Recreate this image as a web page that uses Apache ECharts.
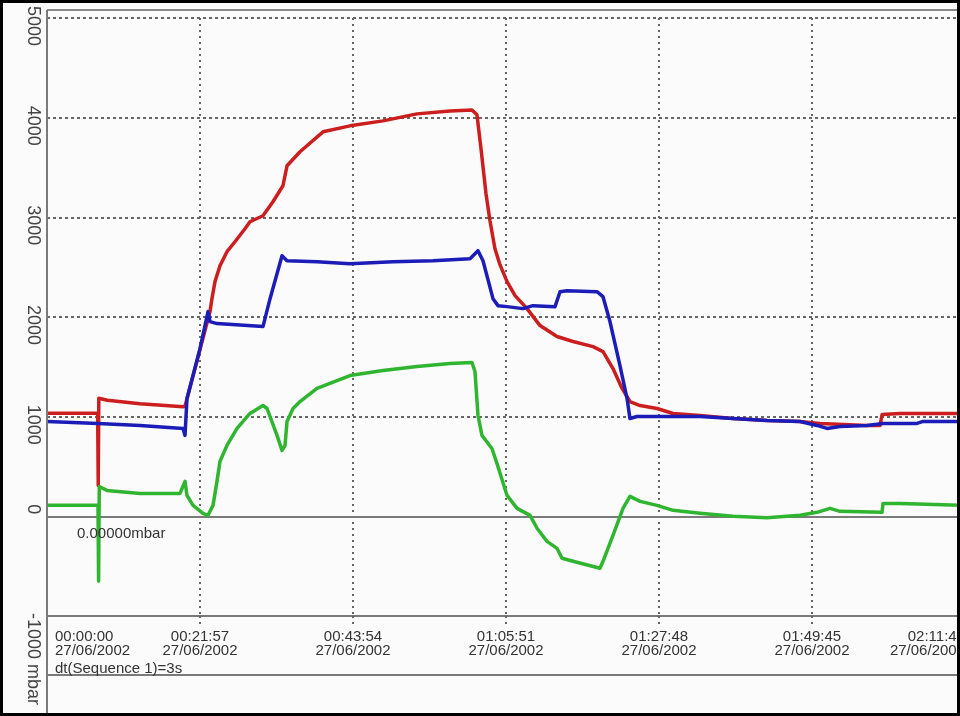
<!DOCTYPE html>
<html>
<head>
<meta charset="utf-8">
<script src="https://cdn.jsdelivr.net/npm/echarts@6/dist/echarts.min.js"></script>
<style>
  html, body { margin: 0; padding: 0; background: #fafbfa; }
  #chart { width: 960px; height: 716px; }
</style>
</head>
<body>
<div id="chart"></div>
<script>
// time in seconds from 00:00:00, pressure in mbar
const dateLabel = '27/06/2002'
const tickStep = 1317 // 00:21:57
const timeMax = 7902 // 02:11:42
const yTicks = [-1000, 0, 1000, 2000, 3000, 4000, 5000]

const redPts = [
	[0, 1035], [436, 1035], [441, 310], [446, 1185], [520, 1165], [800, 1130], [1170, 1100],
	[1188, 1105], [1403, 2054], [1420, 2184], [1446, 2355], [1489, 2515], [1549, 2655],
	[1618, 2755], [1704, 2886], [1747, 2956], [1859, 3016], [1945, 3156], [2031, 3317],
	[2066, 3517], [2178, 3658], [2376, 3858], [2608, 3918], [2892, 3968], [3185, 4038],
	[3469, 4068], [3658, 4078], [3701, 4030], [3736, 3687], [3779, 3236], [3813, 2966],
	[3856, 2685], [3899, 2525], [3960, 2355], [4029, 2214], [4132, 2084], [4244, 1914],
	[4390, 1804], [4528, 1754], [4700, 1703], [4786, 1653], [4872, 1483], [4950, 1283],
	[5018, 1152], [5105, 1112], [5251, 1082], [5389, 1032], [5621, 1012], [5905, 982],
	[6198, 962], [6482, 952], [6654, 932], [7059, 912], [7171, 912], [7188, 1022],
	[7343, 1032], [7902, 1032]
]

const bluePts = [
	[0, 952], [439, 932], [801, 912], [1171, 882], [1188, 812], [1205, 1182], [1257, 1413],
	[1317, 1683], [1360, 1914], [1386, 2054], [1403, 1954], [1463, 1934], [1859, 1904],
	[1920, 2184], [2023, 2615], [2031, 2635], [2066, 2565], [2324, 2555], [2608, 2535],
	[2978, 2555], [3323, 2565], [3641, 2585], [3710, 2665], [3753, 2565], [3839, 2184],
	[3882, 2114], [3960, 2104], [4097, 2084], [4183, 2114], [4373, 2104], [4416, 2254],
	[4476, 2264], [4734, 2254], [4786, 2204], [4846, 1954], [4932, 1513], [4993, 1182],
	[5018, 982], [5079, 1002], [5337, 1002], [5621, 1002], [5905, 982], [6198, 962],
	[6482, 952], [6628, 912], [6714, 882], [6826, 902], [7059, 912], [7196, 932],
	[7489, 932], [7541, 952], [7902, 952]
]

const greenPts = [
	[0, 110], [439, 110], [444, -650], [450, 300], [516, 260], [801, 230], [1145, 230],
	[1188, 351], [1205, 210], [1257, 110], [1343, 30], [1386, 10], [1429, 110], [1463, 351],
	[1489, 551], [1549, 711], [1636, 882], [1747, 1032], [1859, 1112], [1894, 1082],
	[1980, 812], [2023, 661], [2049, 711], [2066, 952], [2118, 1082], [2178, 1152],
	[2324, 1283], [2608, 1413], [2892, 1463], [3185, 1503], [3469, 1533], [3658, 1543],
	[3684, 1453], [3710, 1012], [3744, 812], [3830, 681], [3873, 531], [3960, 210],
	[4046, 80], [4158, 10], [4218, -120], [4304, -251], [4390, -321], [4433, -421],
	[4528, -451], [4760, -521], [4786, -451], [4872, -190], [4958, 80], [5018, 200],
	[5105, 150], [5251, 110], [5389, 60], [5621, 30], [5905, 0], [6198, -15], [6482, 10],
	[6628, 40], [6740, 80], [6826, 50], [7188, 40], [7196, 130], [7343, 130], [7902, 110]
]

const font = "'Liberation Sans', Arial, sans-serif"
const textColor = '#333'
const gridColor = '#666'

function hms(t) {
	const pad = n => String(n).padStart(2, '0')
	return pad(Math.floor(t / 3600)) + ':' + pad(Math.floor(t / 60) % 60) + ':' + pad(t % 60)
}

const chart = echarts.init(document.getElementById('chart'))

const option = {
	animation: false,
	backgroundColor: '#fafbfa',
	grid: {
		left: 47,
		right: -5,
		top: 18,
		bottom: 100,
		outerBoundsMode: 'none'
	},
	xAxis: [
		{
			type: 'value',
			min: 0,
			max: timeMax,
			interval: tickStep,
			axisLine: {
				onZero: false,
				lineStyle: { color: '#7a7a7a', width: 2 }
			},
			axisTick: {
				show: true,
				length: 9,
				lineStyle: { color: gridColor, width: 2, type: [2, 4] }
			},
			splitLine: {
				show: true,
				lineStyle: { color: gridColor, width: 2, type: [2, 4] }
			},
			axisLabel: {
				interval: 0,
				showMinLabel: true,
				showMaxLabel: true,
				alignMinLabel: 'left',
				alignMaxLabel: 'right',
				margin: 14,
				color: textColor,
				fontFamily: font,
				fontSize: 15,
				lineHeight: 14,
				formatter: function (value) {
					if (value === 0) {
						return '{f|' + hms(value) + '}\n{f|' + dateLabel + '}'
					}
					return hms(value) + '\n' + dateLabel
				},
				rich: {
					f: {
						color: textColor,
						fontFamily: font,
						fontSize: 15,
						lineHeight: 14,
						padding: [0, 0, 0, 8]
					}
				}
			}
		},
		{
			// zero line
			type: 'value',
			min: 0,
			max: timeMax,
			position: 'bottom',
			axisLine: {
				onZero: true,
				onZeroAxisIndex: 0,
				lineStyle: { color: '#7a7a7a', width: 2 }
			},
			axisTick: { show: false },
			axisLabel: { show: false },
			splitLine: { show: false }
		}
	],
	yAxis: [
		{
			type: 'value',
			min: yTicks[0],
			max: yTicks[yTicks.length - 1],
			interval: 1000,
			axisLine: { show: false },
			axisTick: { show: false },
			splitLine: {
				show: true,
				lineStyle: { color: gridColor, width: 2, type: [3, 3] }
			},
			axisLabel: {
				rotate: -90,
				align: 'left',
				padding: [0, 0, 0, -12],
				margin: 5,
				showMinLabel: false,
				showMaxLabel: true,
				color: '#444',
				fontFamily: font,
				fontSize: 18,
				formatter: v => (v === -1000 ? '' : String(v))
			}
		},
		{
			type: 'value',
			min: yTicks[0],
			max: yTicks[yTicks.length - 1],
			interval: 1000,
			position: 'left',
			axisLine: { show: false },
			axisTick: { show: false },
			splitLine: { show: false },
			axisLabel: {
				rotate: -90,
				align: 'left',
				padding: [0, 0, 0, -3],
				margin: 5,
				showMinLabel: true,
				showMaxLabel: false,
				color: '#444',
				fontFamily: font,
				fontSize: 18,
				formatter: v => (v === -1000 ? '-1000 mbar' : '')
			}
		}
	],
	series: [
		{
			type: 'line',
			data: redPts,
			showSymbol: false,
			lineStyle: { color: '#cc1e1e', width: 3.5, join: 'round' },
			z: 3
		},
		{
			type: 'line',
			data: bluePts,
			showSymbol: false,
			lineStyle: { color: '#1c1cb8', width: 3.5, join: 'round' },
			z: 4
		},
		{
			type: 'line',
			data: greenPts,
			showSymbol: false,
			lineStyle: { color: '#2fb52f', width: 3.5, join: 'round' },
			z: 5
		}
	],
	graphic: [
		{
			type: 'line',
			shape: { x1: 47, y1: 10, x2: 958, y2: 10 },
			style: { stroke: '#8a8a8a', lineWidth: 2 },
			z: 50
		},
		{
			type: 'line',
			shape: { x1: 47, y1: 10, x2: 47, y2: 714 },
			style: { stroke: '#7a7a7a', lineWidth: 2 },
			z: 50
		},
		{
			type: 'line',
			shape: { x1: 47, y1: 675, x2: 958, y2: 675 },
			style: { stroke: '#7a7a7a', lineWidth: 2 },
			z: 50
		},
		{
			type: 'text',
			left: 77,
			top: 526,
			style: {
				text: '0.00000mbar',
				fill: textColor,
				font: '15px ' + font
			},
			z: 50
		},
		{
			type: 'text',
			left: 55,
			top: 661,
			style: {
				text: 'dt(Sequence 1)=3s',
				fill: textColor,
				font: '15px ' + font
			},
			z: 50
		},
		{
			type: 'rect',
			shape: { x: 1.5, y: 1.5, width: 957, height: 713 },
			style: { fill: 'none', stroke: '#000', lineWidth: 3 },
			z: 100
		}
	]
}

chart.setOption(option)
</script>
</body>
</html>
